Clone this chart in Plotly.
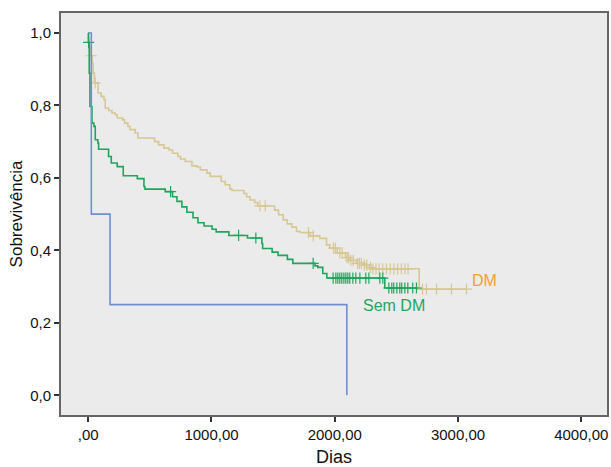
import plotly.graph_objects as go

# ---- data ----
# DM group (Kaplan-Meier steps: time of event, survival after event)
dm_times = [0, 5, 15, 30, 40, 50, 80, 105, 127, 138, 165, 192, 219, 235, 279, 295, 322, 338,
            381, 403, 538, 571, 614, 657, 684, 727, 749, 787, 841, 882, 909, 963, 990,
            1079, 1111, 1149, 1166, 1263, 1285, 1312, 1350, 1375, 1512, 1544, 1582, 1614,
            1652, 1690, 1720, 1800, 1879, 1933, 1960, 2020, 2087, 2120, 2177, 2230, 2285,
            2300, 2685, 3069]
dm_surv = [1.0, 0.96, 0.937, 0.917, 0.889, 0.862, 0.834, 0.825, 0.816, 0.793, 0.786, 0.779,
           0.774, 0.765, 0.760, 0.751, 0.742, 0.733, 0.724, 0.710, 0.700, 0.691, 0.682, 0.677,
           0.668, 0.659, 0.652, 0.645, 0.633, 0.630, 0.622, 0.613, 0.604, 0.590, 0.581, 0.569,
           0.565, 0.557, 0.548, 0.539, 0.532, 0.5225, 0.511, 0.498, 0.484, 0.473, 0.464,
           0.452, 0.449, 0.440, 0.433, 0.415, 0.406, 0.393, 0.380, 0.372, 0.364, 0.359,
           0.353, 0.349, 0.293, 0.293]
dm_cens_t = [24, 57, 1393, 1436, 1787, 1825, 1990, 2005, 2041, 2060, 2100, 2112, 2130, 2150,
             2185, 2200, 2215, 2240, 2260, 2290, 2310, 2335, 2360, 2390, 2420, 2450, 2480,
             2510, 2540, 2570, 2595, 2712, 2744, 2826, 2947, 3069]
dm_cens_s = [0.937, 0.862, 0.5225, 0.5225, 0.449, 0.440, 0.406, 0.406, 0.393, 0.393, 0.380,
             0.380, 0.372, 0.372, 0.364, 0.364, 0.364, 0.359, 0.359, 0.353, 0.349, 0.349,
             0.349, 0.349, 0.349, 0.349, 0.349, 0.349, 0.349, 0.349, 0.349, 0.293, 0.293,
             0.293, 0.293, 0.293]

# Sem DM group
sdm_times = [0, 1, 8, 14, 30, 46, 57, 78, 84, 165, 187, 235, 284, 398, 452, 460, 625, 684,
             720, 760, 800, 850, 890, 940, 1005, 1038, 1141, 1292, 1409, 1415, 1492, 1540,
             1616, 1660, 1840, 1863, 1903, 1936, 2406, 2663]
sdm_surv = [1.0, 0.974, 0.889, 0.797, 0.751, 0.742, 0.705, 0.696, 0.679, 0.659, 0.641, 0.631,
            0.606, 0.598, 0.576, 0.569, 0.562, 0.548, 0.535, 0.520, 0.505, 0.490, 0.476,
            0.467, 0.458, 0.451, 0.441, 0.434, 0.419, 0.405, 0.395, 0.386, 0.375, 0.364,
            0.357, 0.353, 0.336, 0.3235, 0.296, 0.296]
sdm_cens_t = [3, 668, 1220, 1360, 1825, 1987, 2009, 2025, 2041, 2057, 2074, 2090, 2106, 2122,
              2147, 2171, 2204, 2252, 2277, 2366, 2390, 2439, 2463, 2479, 2504, 2528, 2544,
              2569, 2593, 2633, 2663]
sdm_cens_s = [0.974, 0.562, 0.441, 0.434, 0.364] + [0.3235] * 16 + [0.296] * 10

# third (small) group
g3_times = [0, 25, 177, 2098]
g3_surv = [1.0, 0.5, 0.25, 0.0]

x_ticks = [0, 1000, 2000, 3000, 4000]
x_ticktext = [",00", "1000,00", "2000,00", "3000,00", "4000,00"]
y_ticks = [0.0, 0.2, 0.4, 0.6, 0.8, 1.0]
y_ticktext = ["0,0", "0,2", "0,4", "0,6", "0,8", "1,0"]

# ---- styles ----
c_dm = "#d6c795"
c_sdm = "#1fa65c"
c_g3 = "#6f8fcf"
c_dm_label = "#f5a033"
font_family = "Liberation Sans, Arial"

fig = go.Figure()
fig.add_trace(go.Scatter(x=dm_times, y=dm_surv, mode="lines", line=dict(color=c_dm, width=1.6, shape="hv"),
                         hoverinfo="skip", showlegend=False))
fig.add_trace(go.Scatter(x=dm_cens_t, y=dm_cens_s, mode="markers",
                         marker=dict(symbol="cross-thin", size=8, line=dict(color=c_dm, width=1.2)),
                         hoverinfo="skip", showlegend=False))
fig.add_trace(go.Scatter(x=sdm_times, y=sdm_surv, mode="lines", line=dict(color=c_sdm, width=1.6, shape="hv"),
                         hoverinfo="skip", showlegend=False))
fig.add_trace(go.Scatter(x=sdm_cens_t, y=sdm_cens_s, mode="markers",
                         marker=dict(symbol="cross-thin", size=8, line=dict(color=c_sdm, width=1.2)),
                         hoverinfo="skip", showlegend=False))
fig.add_trace(go.Scatter(x=g3_times, y=g3_surv, mode="lines", line=dict(color=c_g3, width=1.6, shape="hv"),
                         hoverinfo="skip", showlegend=False))

fig.add_annotation(x=3215, y=0.318, text="DM", showarrow=False,
                   font=dict(family=font_family, size=16, color=c_dm_label))
fig.add_annotation(x=2477, y=0.249, text="Sem DM", showarrow=False,
                   font=dict(family=font_family, size=16, color=c_sdm))

axis_common = dict(showline=True, linecolor="#666666", linewidth=2, mirror=True,
                   ticks="outside", ticklen=5, tickwidth=1.5, tickcolor="#333333",
                   showgrid=False, zeroline=False, automargin=False,
                   tickfont=dict(family=font_family, size=15, color="#111111"))

fig.update_layout(
    width=611, height=467,
    margin=dict(l=61, r=4, t=13, b=52),
    paper_bgcolor="white", plot_bgcolor="#ebebeb",
    xaxis=dict(range=[-221, 4209], tickvals=x_ticks, ticktext=x_ticktext,
               title=dict(text="Dias", font=dict(family=font_family, size=18, color="#111111"), standoff=8),
               **axis_common),
    yaxis=dict(range=[-0.0545, 1.055], tickvals=y_ticks, ticktext=y_ticktext,
               title=dict(text="Sobrevivência", font=dict(family=font_family, size=17, color="#111111"), standoff=3),
               **axis_common),
)

fig.write_html("out.html")
